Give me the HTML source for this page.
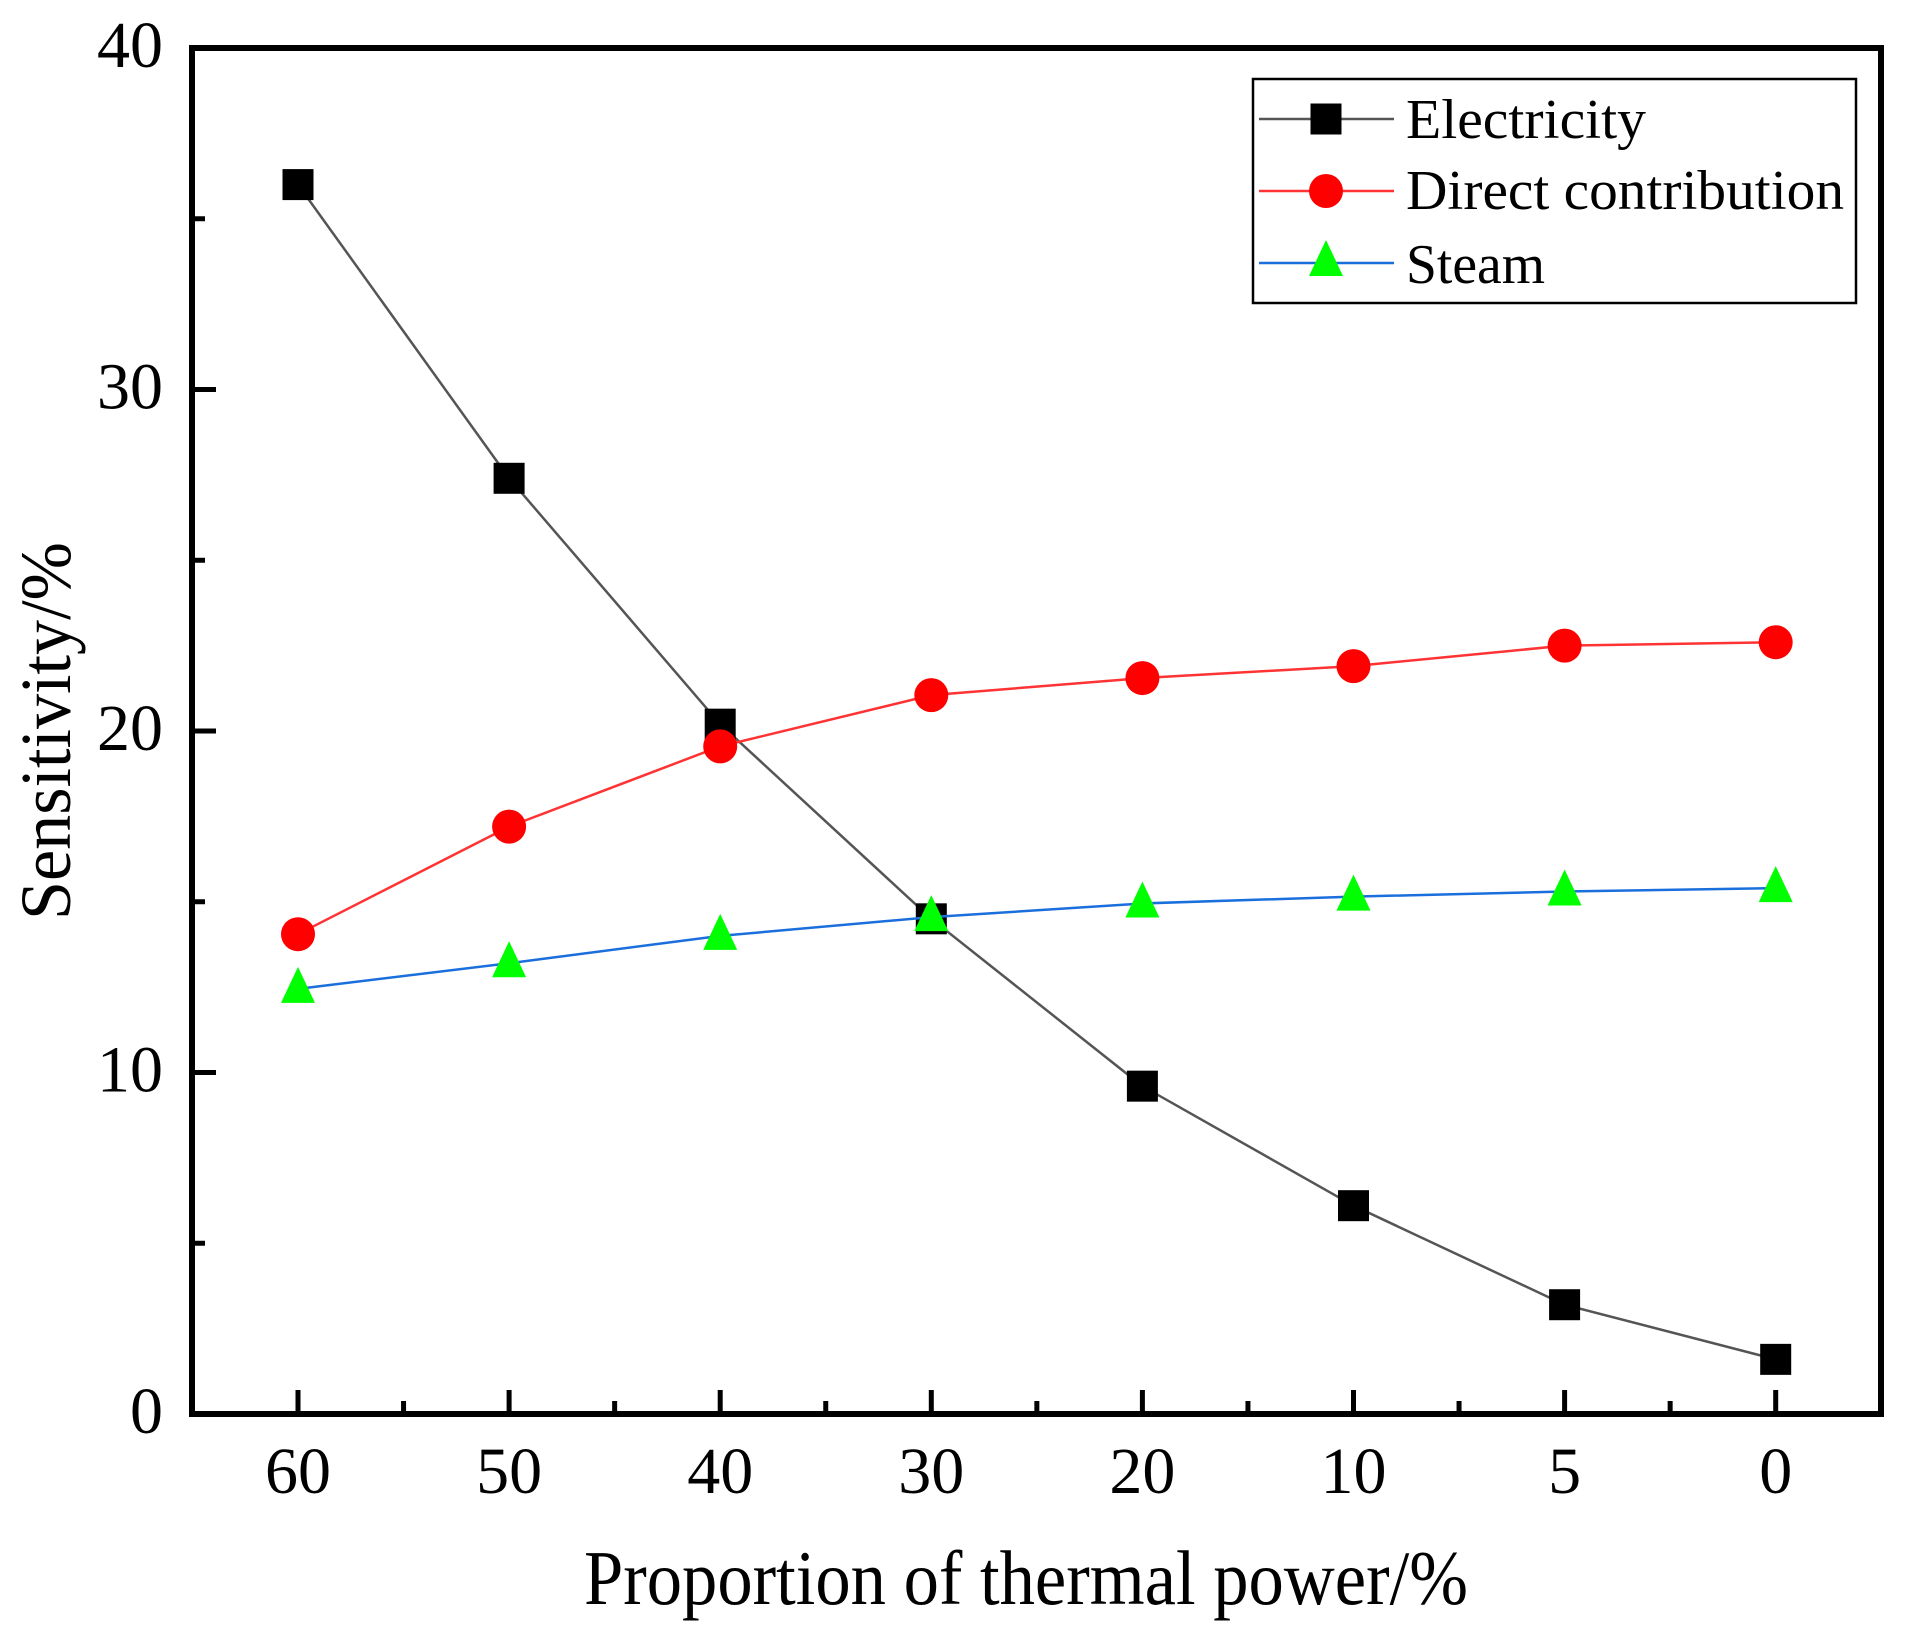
<!DOCTYPE html>
<html><head><meta charset="utf-8"><style>
html,body{margin:0;padding:0;background:#fff;}
svg{display:block;font-family:"Liberation Serif","Times New Roman",serif;}
</style></head><body>
<svg id="chart" width="1907" height="1626" viewBox="0 0 1907 1626" xmlns="http://www.w3.org/2000/svg">
<rect x="0" y="0" width="1907" height="1626" fill="#fff"/>
<g id="plot"></g>
<g id="axes"></g>
<g id="legend">
  <rect x="1253" y="79" width="603" height="224" fill="#fff" stroke="#000" stroke-width="2.5"/>
  <line x1="1259" y1="119" x2="1394" y2="119" stroke="#555" stroke-width="2.5"/>
  <rect x="1310.5" y="103.5" width="31" height="31" fill="#000"/>
  <text x="1406" y="138" font-size="56" textLength="240" lengthAdjust="spacingAndGlyphs">Electricity</text>
  <line x1="1259" y1="191" x2="1394" y2="191" stroke="#f33" stroke-width="2.5"/>
  <ellipse cx="1326" cy="191" rx="17" ry="17" fill="#f00"/>
  <text x="1406" y="209" font-size="56" textLength="438" lengthAdjust="spacingAndGlyphs">Direct contribution</text>
  <line x1="1259" y1="263" x2="1394" y2="263" stroke="#1a6fdc" stroke-width="2.5"/>
  <polygon points="1326,240 1343,276 1309,276" fill="#0f0"/>
  <text x="1406" y="283" font-size="56" textLength="139" lengthAdjust="spacingAndGlyphs">Steam</text>
</g>
<text x="584" y="1604" font-size="77" textLength="884" lengthAdjust="spacingAndGlyphs">Proportion of thermal power/%</text>
<text transform="translate(70,920) rotate(-90)" x="0" y="0" font-size="72" textLength="378" lengthAdjust="spacingAndGlyphs">Sensitivity/%</text>
</svg>
<script>
const categories = ["60","50","40","30","20","10","5","0"];
const electricity = [36.0, 27.4, 20.2, 14.5, 9.6, 6.1, 3.2, 1.6];
const directContribution = [14.05, 17.2, 19.55, 21.05, 21.55, 21.9, 22.5, 22.6];
const steam = [12.45, 13.2, 14.0, 14.55, 14.95, 15.15, 15.3, 15.4];
const yTicks = [0, 10, 20, 30, 40];
const yMinorTicks = [5, 15, 25, 35];

const NS = "http://www.w3.org/2000/svg";
const L = 192, R = 1881, T = 48, B = 1414;
const X0 = 298, DX = 211.1;
const yMin = 0, yMax = 40;
function xPos(i){ return X0 + i * DX; }
function yPos(v){ return B - (v - yMin) / (yMax - yMin) * (B - T); }
function mk(tag, attrs, parent){
  const e = document.createElementNS(NS, tag);
  for (const k in attrs) e.setAttribute(k, attrs[k]);
  parent.appendChild(e);
  return e;
}
const plot = document.getElementById('plot');
const axes = document.getElementById('axes');

function drawSeries(vals, name, color, marker){
  const pts = vals.map((v,i)=> xPos(i) + ',' + yPos(v)).join(' ');
  const pl = mk('polyline', {points: pts, fill: 'none', stroke: color, 'stroke-width': 2.5}, plot);
  
  
  vals.forEach((v,i)=>{
    const x = xPos(i), y = yPos(v);
    let m;
    if (marker === 'square') m = mk('rect', {x: x-15.5, y: y-15.5, width: 31, height: 31, fill: '#000'}, plot);
    else if (marker === 'circle') m = mk('ellipse', {cx: x, cy: y, rx: 17, ry: 17, fill: '#f00'}, plot);
    else m = mk('polygon', {points: x+','+(y-22)+' '+(x+17)+','+(y+14)+' '+(x-17)+','+(y+14), fill: '#0f0'}, plot);
    
    
  });
}
drawSeries(electricity, 'electricity', '#555', 'square');
drawSeries(directContribution, 'direct-contribution', '#f33', 'circle');
drawSeries(steam, 'steam', '#1a6fdc', 'triangle');

const frame = mk('rect', {x: L, y: T, width: R-L, height: B-T, fill: 'none', stroke: '#000', 'stroke-width': 6}, axes);



yTicks.forEach(v=>{
  const y = yPos(v);
  const t = mk('line', {x1: L, y1: y, x2: L+24, y2: y, stroke: '#000', 'stroke-width': 5}, axes);
  
  
  const lb = mk('text', {x: 163, y: y+19, 'font-size': 66, 'text-anchor': 'end'}, axes);
  lb.textContent = v;
  
  
});
yMinorTicks.forEach(v=>{
  const y = yPos(v);
  const t = mk('line', {x1: L, y1: y, x2: L+13, y2: y, stroke: '#000', 'stroke-width': 5}, axes);
  
  
});
categories.forEach((c,i)=>{
  const x = xPos(i);
  const t = mk('line', {x1: x, y1: B, x2: x, y2: B-24, stroke: '#000', 'stroke-width': 5}, axes);
  
  
  const lb = mk('text', {x: x, y: 1493, 'font-size': 66, 'text-anchor': 'middle'}, axes);
  lb.textContent = c;
  
  
  if (i < categories.length - 1){
    const mx = x + DX/2;
    const m = mk('line', {x1: mx, y1: B, x2: mx, y2: B-13, stroke: '#000', 'stroke-width': 5}, axes);
    
    
  }
});
</script>
</body></html>
